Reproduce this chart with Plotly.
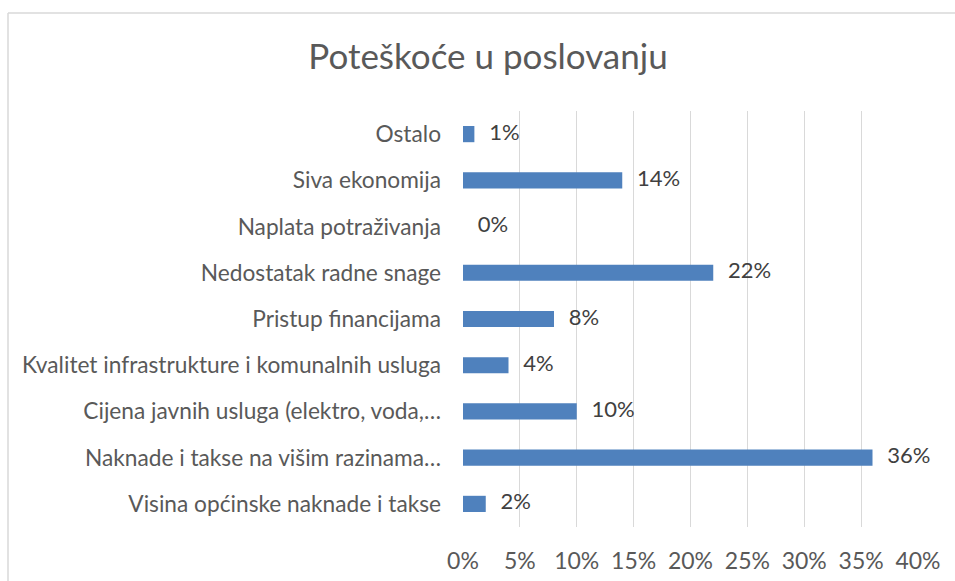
import plotly.graph_objects as go

categories = [
    "Visina općinske naknade i takse",
    "Naknade i takse na višim razinama…",
    "Cijena javnih usluga (elektro, voda,…",
    "Kvalitet infrastrukture i komunalnih usluga",
    "Pristup financijama",
    "Nedostatak radne snage",
    "Naplata potraživanja",
    "Siva ekonomija",
    "Ostalo",
]
values = [2, 36, 10, 4, 8, 22, 0, 14, 1]
x_ticks = [0, 5, 10, 15, 20, 25, 30, 35, 40]
x_tick_labels = [f"{v}%" for v in x_ticks]
title = "Poteškoće u poslovanju"

FONT = "Lato"
GREY = "#595959"

W, H = 955, 581
L, R, T, B = 463, 37, 111, 54
pw, ph = W - L - R, H - T - B

fig = go.Figure()
fig.add_trace(go.Bar(
    y=categories, x=values, orientation="h",
    marker=dict(color="#4F81BD", line=dict(width=0)),
    hoverinfo="skip",
))
fig.add_trace(go.Scatter(
    y=categories, x=values, mode="markers+text",
    text=[f"{v}%" for v in values], textposition="middle right",
    marker=dict(size=22, color="rgba(0,0,0,0)"),
    textfont=dict(family=FONT, size=22, color="#404040"),
    hoverinfo="skip", cliponaxis=False,
))

fig.update_layout(
    width=W, height=H,
    margin=dict(l=L, r=R, t=T, b=B),
    paper_bgcolor="white", plot_bgcolor="white",
    showlegend=False,
    bargap=0.65,
    title=dict(text=title, x=488 / W, xanchor="center", y=1 - 57 / H, yanchor="middle",
               font=dict(family=FONT, size=35, color=GREY, weight=400)),
    xaxis=dict(range=[0, 40], tickvals=x_ticks, ticktext=x_tick_labels,
               showgrid=True, gridcolor="#D9D9D9", gridwidth=1,
               zeroline=False, showline=False, ticks="",
               tickfont=dict(family=FONT, size=23, color=GREY),
               ticklabelstandoff=18, fixedrange=True, automargin=False),
    yaxis=dict(categoryorder="array", categoryarray=categories, range=[-0.5, 8.5],
               showgrid=False, zeroline=False, showline=False, ticks="",
               tickfont=dict(family=FONT, size=22.7, color=GREY),
               ticklabelstandoff=21, fixedrange=True, automargin=False),
    shapes=[
        dict(type="line", xref="paper", yref="paper",
             x0=(8 - L) / pw, x1=(W + 5 - L) / pw,
             y0=(H - B - 13) / ph, y1=(H - B - 13) / ph,
             line=dict(color="#D9D9D9", width=1.5), layer="below"),
        dict(type="line", xref="paper", yref="paper",
             x0=(8 - L) / pw, x1=(8 - L) / pw,
             y0=(H - B - 13) / ph, y1=-(B + 5) / ph,
             line=dict(color="#D9D9D9", width=1.5), layer="below"),
    ],
)

fig.write_html(
    "out.html",
    config={"displayModeBar": False},
    post_script=(
        "document.body.style.margin='0';"
        "document.body.style.overflow='hidden';"
        "document.documentElement.style.overflow='hidden';"
    ),
)
